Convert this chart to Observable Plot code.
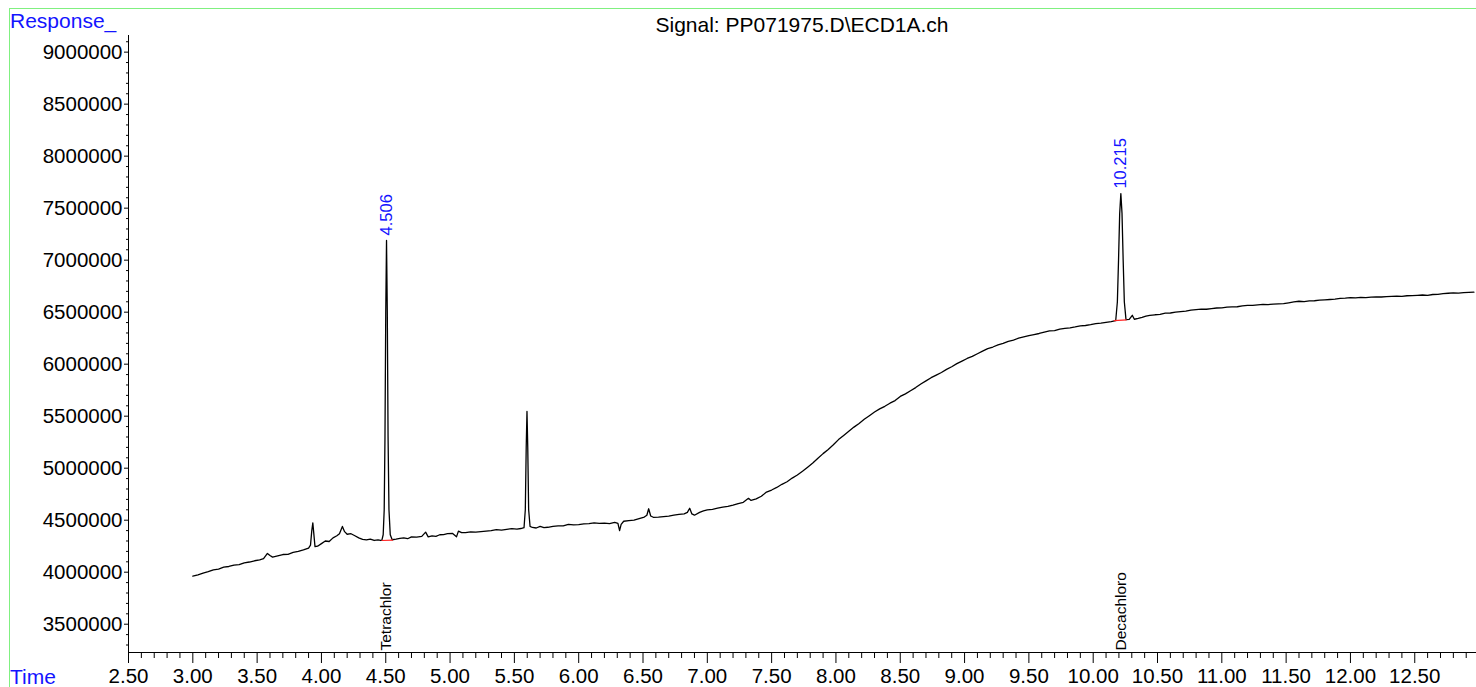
<!DOCTYPE html>
<html>
<head>
<meta charset="utf-8">
<script src="https://cdn.jsdelivr.net/npm/d3@7"></script>
<script src="https://cdn.jsdelivr.net/npm/@observablehq/plot@0.6"></script>
<style>
  html, body { margin: 0; padding: 0; background: #fff; overflow: hidden; }
  #wrap { position: relative; width: 1476px; height: 687px; overflow: hidden; font-family: "Liberation Sans", Arial, sans-serif; }
  #wrap svg { display: block; position: absolute; left: 0; top: 0; }
  #border { position: absolute; left: 9px; top: 8px; width: 1500px; height: 700px; border-top: 1px solid #80f080; border-left: 1px solid #80f080; }
  .lbl { position: absolute; white-space: nowrap; line-height: 1; }
  #resp { left: 10px; top: 10px; font-size: 21px; color: #1414ff; }
  #time { left: 10px; top: 666px; font-size: 21px; color: #1414ff; }
  #title { left: 802px; top: 14px; font-size: 21px; color: #000; transform: translateX(-50%); }
</style>
</head>
<body>
<div id="wrap">
  <div id="border"></div>
  <div id="chart"></div>
  <div class="lbl" id="resp">Response_</div>
  <div class="lbl" id="time">Time</div>
  <div class="lbl" id="title">Signal: PP071975.D\ECD1A.ch</div>
</div>
<script>
// Retention time (min) and detector response
const times = [
  3.00,3.04,3.08,3.12,3.16,3.20,3.24,3.28,3.32,3.36,3.40,3.44,3.48,3.52,3.55,3.58,3.60,3.62,3.66,3.70,
  3.74,3.78,3.82,3.86,3.90,3.915,3.925,3.933,3.94,3.95,3.97,4.00,4.03,4.06,4.09,4.12,4.14,4.163,4.18,4.20,
  4.23,4.26,4.29,4.32,4.35,4.38,4.41,4.44,4.46,4.470,4.480,4.488,4.494,4.500,4.506,4.512,4.518,4.525,4.535,4.550,
  4.58,4.61,4.64,4.67,4.70,4.74,4.78,4.81,4.83,4.86,4.89,4.92,4.95,4.98,5.02,5.05,5.065,5.09,5.12,5.16,
  5.20,5.24,5.28,5.32,5.36,5.40,5.44,5.48,5.52,5.55,5.575,5.585,5.592,5.598,5.604,5.611,5.622,5.64,5.67,5.70,
  5.73,5.76,5.80,5.84,5.88,5.92,5.96,6.00,6.04,6.08,6.12,6.16,6.20,6.24,6.28,6.305,6.318,6.33,6.35,6.39,
  6.43,6.47,6.51,6.53,6.544,6.56,6.58,6.62,6.66,6.70,6.74,6.78,6.82,6.845,6.863,6.88,6.90,6.94,6.97,7.00,
  7.04,7.08,7.12,7.16,7.20,7.24,7.28,7.32,7.34,7.38,7.42,7.46,7.50,7.54,7.58,7.62,7.66,7.70,7.74,7.78,
  7.82,7.86,7.90,7.94,7.98,8.02,8.06,8.10,8.14,8.18,8.22,8.26,8.30,8.34,8.38,8.42,8.46,8.50,8.54,8.58,
  8.62,8.66,8.70,8.74,8.78,8.82,8.86,8.90,8.94,8.98,9.02,9.06,9.10,9.14,9.18,9.22,9.26,9.30,9.34,9.38,
  9.42,9.46,9.50,9.54,9.58,9.62,9.66,9.70,9.74,9.78,9.82,9.86,9.90,9.94,9.98,10.02,10.06,10.10,10.14,10.175,
  10.188,10.197,10.206,10.215,10.224,10.233,10.242,10.255,10.28,10.304,10.32,10.35,10.38,10.41,10.44,10.48,10.52,10.56,10.60,10.64,
  10.68,10.72,10.76,10.80,10.84,10.88,10.92,10.96,11.00,11.04,11.08,11.12,11.16,11.20,11.24,11.28,11.32,11.36,11.40,11.44,
  11.48,11.52,11.56,11.60,11.64,11.68,11.72,11.76,11.80,11.84,11.88,11.92,11.96,12.00,12.04,12.08,12.12,12.16,12.20,12.24,
  12.28,12.32,12.36,12.40,12.44,12.48,12.52,12.56,12.60,12.64,12.68,12.72,12.76,12.80,12.84,12.88,12.92,12.96
];
const responses = [
  3962000,3975000,3990000,4005000,4023000,4030000,4048000,4055000,4068000,4072000,4090000,4098000,4110000,4118000,4130000,4180000,4160000,4145000,4158000,4170000,
  4172000,4190000,4200000,4215000,4232000,4260000,4400000,4475000,4380000,4245000,4250000,4275000,4300000,4295000,4330000,4350000,4370000,4440000,4390000,4365000,
  4370000,4350000,4330000,4315000,4310000,4318000,4305000,4310000,4305000,4308000,4360000,4600000,5300000,6500000,7190000,6500000,5300000,4600000,4360000,4312000,
  4318000,4325000,4330000,4322000,4340000,4338000,4345000,4385000,4340000,4350000,4345000,4360000,4362000,4370000,4372000,4340000,4395000,4380000,4380000,4388000,
  4385000,4390000,4395000,4400000,4410000,4405000,4412000,4418000,4415000,4420000,4428000,4600000,5200000,5545000,5200000,4600000,4440000,4430000,4425000,4440000,
  4428000,4432000,4440000,4445000,4445000,4460000,4455000,4458000,4465000,4468000,4475000,4470000,4472000,4468000,4480000,4470000,4400000,4460000,4490000,4495000,
  4500000,4515000,4530000,4548000,4610000,4540000,4528000,4530000,4535000,4540000,4548000,4555000,4560000,4575000,4615000,4560000,4548000,4575000,4590000,4600000,
  4605000,4615000,4625000,4632000,4645000,4660000,4672000,4710000,4690000,4705000,4730000,4770000,4790000,4815000,4845000,4870000,4905000,4935000,4970000,5010000,
  5050000,5095000,5140000,5180000,5225000,5275000,5315000,5355000,5395000,5430000,5470000,5505000,5540000,5570000,5595000,5625000,5650000,5690000,5715000,5745000,
  5775000,5810000,5840000,5870000,5895000,5920000,5950000,5975000,6005000,6030000,6055000,6075000,6100000,6125000,6150000,6165000,6185000,6200000,6220000,6232000,
  6250000,6262000,6275000,6285000,6295000,6308000,6320000,6322000,6338000,6345000,6350000,6358000,6368000,6372000,6380000,6390000,6395000,6402000,6410000,6418000,
  6600000,7000000,7450000,7640000,7450000,7000000,6600000,6428000,6430000,6470000,6432000,6440000,6450000,6462000,6470000,6475000,6478000,6490000,6492000,6500000,
  6505000,6510000,6520000,6525000,6530000,6528000,6535000,6540000,6542000,6548000,6550000,6552000,6560000,6565000,6565000,6570000,6575000,6572000,6578000,6580000,
  6582000,6590000,6598000,6605000,6602000,6608000,6610000,6615000,6618000,6622000,6625000,6632000,6635000,6640000,6638000,6642000,6640000,6645000,6648000,6646000,
  6650000,6652000,6655000,6652000,6658000,6660000,6662000,6665000,6662000,6670000,6672000,6678000,6682000,6685000,6683000,6688000,6690000,6692000
];

// Integrated peaks (retention-time labels) and their baselines
const peakTimes = [4.506, 10.215];
const peakLabels = ["4.506", "10.215"];
const peakHeights = [7190000, 7640000];
const baseStartT = [4.468, 10.16];
const baseEndT = [4.556, 10.26];
const baseStartV = [4305000, 6418000];
const baseEndV = [4308000, 6425000];
const compoundNames = ["Tetrachlor", "Decachloro"];

// Axis ticks
const xDomain = [2.5, 12.98];
const yDomain = [3228000, 9160000];
const xMajorTicks = [2.5,3.0,3.5,4.0,4.5,5.0,5.5,6.0,6.5,7.0,7.5,8.0,8.5,9.0,9.5,10.0,10.5,11.0,11.5,12.0,12.5];
const xMinorTicks = d3.range(26, 130).map(d => d / 10).filter(d => Math.round(d * 10) % 5 !== 0);
const yMajorTicks = [3500000,4000000,4500000,5000000,5500000,6000000,6500000,7000000,7500000,8000000,8500000,9000000];
const yMinorTicks = d3.range(33, 92).map(d => d * 100000).filter(d => d % 500000 !== 0);

const trace = times.map((t, i) => ({t, v: responses[i]}));
const peaks = peakTimes.map((t, i) => ({t, v: peakHeights[i], label: peakLabels[i], name: compoundNames[i]}));
const baselines = baseStartT.map((t, i) => ({x1: t, x2: baseEndT[i], y1: baseStartV[i], y2: baseEndV[i]}));

const chart = Plot.plot({
  width: 1476,
  height: 687,
  marginLeft: 128,
  marginRight: 0,
  marginTop: 35,
  marginBottom: 35,
  style: {fontFamily: "'Liberation Sans', Arial, sans-serif", fontSize: "20.5px", background: "transparent", overflow: "visible", color: "#000"},
  x: {domain: xDomain, label: null},
  y: {domain: yDomain, label: null},
  marks: [
    Plot.axisY(yMinorTicks, {tickSize: 2, tickFormat: () => "", fill: "none", label: null}),
    Plot.axisY(yMajorTicks, {tickSize: 4, tickPadding: 2, tickFormat: d3.format("d"), label: null}),
    Plot.axisX(xMinorTicks, {tickSize: 6, tickFormat: () => "", fill: "none", label: null}),
    Plot.axisX(xMajorTicks, {tickSize: 11, tickPadding: 5, tickFormat: d3.format(".2f"), label: null}),
    Plot.ruleX([xDomain[0]], {stroke: "#000"}),
    Plot.ruleY([yDomain[0]], {stroke: "#000"}),
    Plot.line(trace, {x: "t", y: "v", stroke: "#000", strokeWidth: 1.3}),
    Plot.link(baselines, {x1: "x1", y1: "y1", x2: "x2", y2: "y2", stroke: "#ff2020", strokeWidth: 1.2}),
    Plot.text(peaks, {x: "t", y: "v", text: "label", rotate: -90, textAnchor: "start", lineAnchor: "middle", dy: -5, fill: "#1414ff", fontSize: 16.5}),
    Plot.text(peaks, {x: "t", y: () => yDomain[0], text: "name", rotate: -90, textAnchor: "start", lineAnchor: "middle", dy: -2, fill: "#000", fontSize: 15.5})
  ]
});
document.getElementById("chart").appendChild(chart);
</script>
</body>
</html>
